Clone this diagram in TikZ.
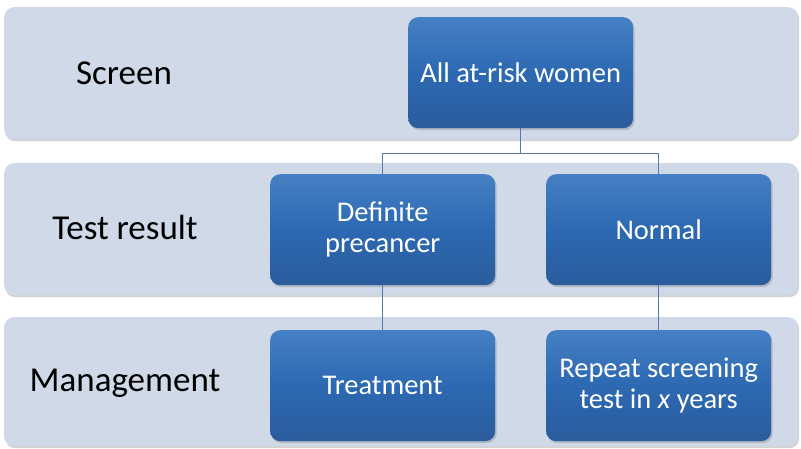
\documentclass[tikz,border=0pt]{standalone}
\usepackage{fontspec}
\setmainfont{Carlito}
\usetikzlibrary{shadows,calc}
\definecolor{bandfill}{HTML}{CFD9E8}
\definecolor{boxtop}{HTML}{4680C4}
\definecolor{boxmid}{HTML}{2C69B2}
\definecolor{boxbot}{HTML}{2B5C9C}
\definecolor{linkcol}{HTML}{5778AE}
\tikzset{
  band/.style={draw=none, fill=bandfill, rounded corners=10pt, minimum width=794pt, minimum height=132pt, anchor=north west, inner sep=0pt,
    drop shadow={opacity=0.35, shadow xshift=1pt, shadow yshift=-2pt, fill=black!50}},
  rowlabel/.style={font=\fontsize{35}{38}\selectfont, text=black, anchor=center},
  stepbox/.style={rounded corners=10pt, minimum width=225pt, minimum height=111pt, inner sep=0pt, anchor=north west,
    top color=boxtop, bottom color=boxbot, middle color=boxmid, draw=none,
    text=white, align=center, font=\fontsize{28.5}{31}\selectfont,
    drop shadow={opacity=0.35, shadow xshift=1.5pt, shadow yshift=-2pt}},
  link/.style={draw=linkcol, line width=1pt}
}
\begin{document}
\begin{tikzpicture}[x=1pt,y=-1pt]
\useasboundingbox (0,0) rectangle (801,449);
% bands
\node[band] (b1) at (4,7) {};
\node[band] (b2) at (4,163) {};
\node[band, minimum height=129pt] (b3) at (4,317) {};
% row labels
\node[rowlabel] (l1) at (124,73) {Screen};
\node[rowlabel] (l2) at (125,227) {Test result};
\node[rowlabel] (l3) at (125,383) {Management};
% boxes
\node[stepbox] (top) at (408,17) {All at-risk women};
\node[stepbox] (def) at (270,174) {Definite\\precancer};
\node[stepbox] (norm) at (546,174) {Normal};
\node[stepbox] (treat) at (270,330) {Treatment};
\node[stepbox] (rep) at (546,330) {Repeat screening\\test in \textit{x} years};
% connectors
\coordinate (j) at ($(top.south)+(0,25)$);
\draw[link] (top.south) -- (j) -| (def.north);
\draw[link] (j) -| (norm.north);
\draw[link] (def.south) -- (treat.north);
\draw[link] (norm.south) -- (rep.north);
\end{tikzpicture}
\end{document}
